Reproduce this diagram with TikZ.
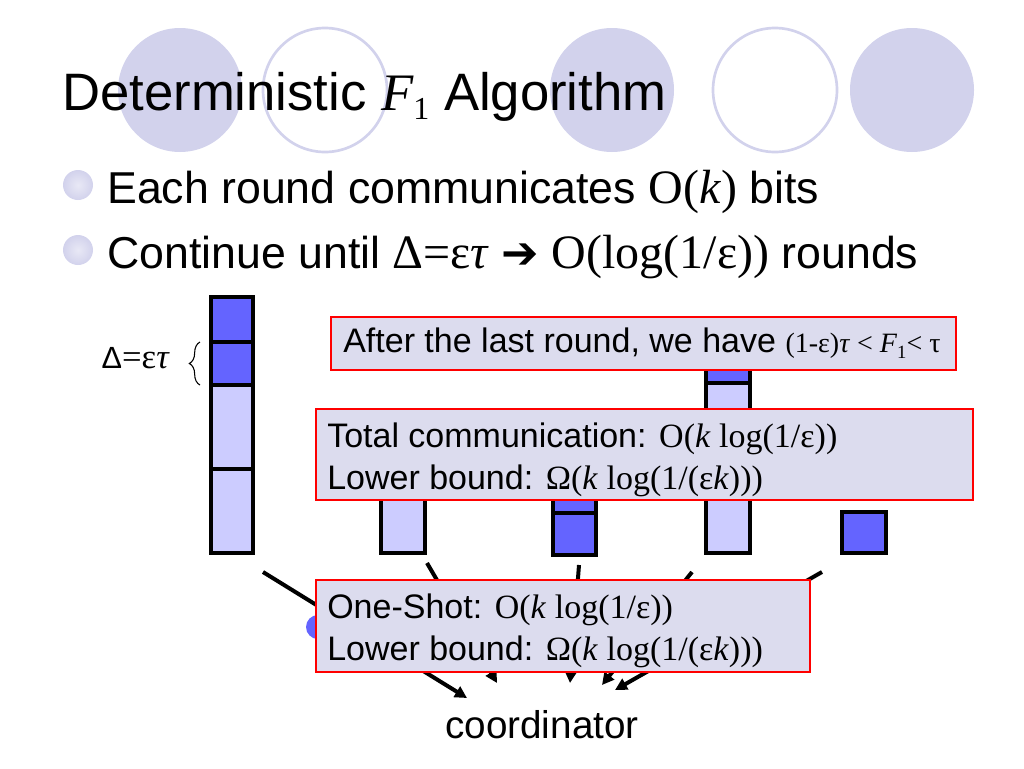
\documentclass[tikz,border=0pt]{standalone}
\usepackage{fontspec}
\setmainfont{Liberation Sans}
\newfontfamily\ser{Liberation Serif}
\usetikzlibrary{decorations.pathreplacing,arrows.meta}
\definecolor{lav}{HTML}{D2D2EC}
\definecolor{bdk}{HTML}{6464FF}
\definecolor{blt}{HTML}{CCCCFF}
\definecolor{boxf}{HTML}{DCDCEE}
\newcommand{\sr}[1]{{\ser\fontsize{25.5}{31}\selectfont #1}}
\begin{document}
\begin{tikzpicture}[x=0.75pt,y=-0.75pt,
 seg/.style={draw=black,line width=3pt},
 bx/.style={draw=red,fill=boxf,line width=1.2pt},
 ln/.style={line width=3pt,-{Triangle[length=9pt,width=9pt]}},
 txt/.style={font=\fontsize{25.5}{31}\selectfont,anchor=north west,align=left,inner sep=0}]
\useasboundingbox (0,0) rectangle (1024,768);
% background circles
\fill[lav] (180,90) circle (62);
\draw[lav,line width=2pt] (325,90) circle (62);
\fill[lav] (612,90) circle (62);
\draw[lav,line width=2pt] (775,90) circle (62);
\fill[lav] (912,90) circle (62);
\node[anchor=west,font=\fontsize{39.5}{44}\selectfont,inner sep=0] (title) at (62,97) {Deterministic {\ser\itshape F}{\ser\fontsize{24}{24}\selectfont\raisebox{-7pt}{1}} Algorithm};
\shade[inner color=lav!50,outer color=lav] (78,185) circle (15);
\shade[inner color=lav!50,outer color=lav] (78,250) circle (15);
\node[anchor=west,font=\fontsize{33.5}{38}\selectfont,inner sep=0] (b1) at (107,192) {Each round communicates {\ser\fontsize{36}{38}\selectfont O(\textit{k})} bits};
\node[anchor=west,font=\fontsize{33.5}{38}\selectfont,inner sep=0] (b2) at (107,257) {Continue until {\ser\fontsize{36}{38}\selectfont Δ=ε\textit{τ}} {\fontspec{DejaVu Sans}\bfseries ➔} {\ser\fontsize{36}{38}\selectfont O(log(1/ε))} rounds};
% connectors
\draw[ln] (263,572) -- (467,698);
\draw[ln] (427,563) -- (497,683);
\draw[ln] (579,565) -- (570,683);
\draw[ln] (692,572) -- (602,685);
\draw[ln] (822,572) -- (615,690);
\fill[bdk] (318,627) circle (12);
% bars
\filldraw[seg,fill=bdk] (211,297) rectangle (253,342);
\filldraw[seg,fill=bdk] (211,342) rectangle (253,385);
\filldraw[seg,fill=blt] (211,385) rectangle (253,469);
\filldraw[seg,fill=blt] (211,469) rectangle (253,553);
\filldraw[seg,fill=blt] (381,460) rectangle (425,553);
\filldraw[seg,fill=bdk] (553,470) rectangle (596,513);
\filldraw[seg,fill=bdk] (553,513) rectangle (596,555);
\filldraw[seg,fill=bdk] (706,340) rectangle (750,383);
\filldraw[seg,fill=blt] (706,383) rectangle (750,553);
\filldraw[seg,fill=bdk] (842,512) rectangle (886,553);
\draw[line width=0.8pt,decorate,decoration={brace,amplitude=8pt}] (200,385) -- (200,342);
\node[anchor=east,font=\fontsize{23}{23}\selectfont,inner sep=0] (lab) at (170,358) {Δ{\ser\fontsize{26}{26}\selectfont=ε\textit{τ}}};
% boxes
\draw[bx] (331,317) rectangle (956,370);
\node[txt] (t1) at (343,328) {After the last round, we have {\ser\fontsize{21}{21}\selectfont(1-ε)\textit{τ} < \textit{F}\raisebox{-4pt}{\fontsize{14}{14}\selectfont 1}< τ}};
\draw[bx] (316,409) rectangle (973,500);
\node[txt] (t2) at (327,423) {Total communication: \sr{O(\textit{k} log(1/ε))}\\Lower bound: \sr{Ω(\textit{k} log(1/(ε\textit{k})))}};
\draw[bx] (316,580) rectangle (810,672);
\node[txt] (t3) at (327,594) {One-Shot: \sr{O(\textit{k} log(1/ε))}\\Lower bound: \sr{Ω(\textit{k} log(1/(ε\textit{k})))}};
\node[font=\fontsize{29}{32}\selectfont,inner sep=0] (coord) at (542,725) {coordinator};
\end{tikzpicture}
\end{document}
